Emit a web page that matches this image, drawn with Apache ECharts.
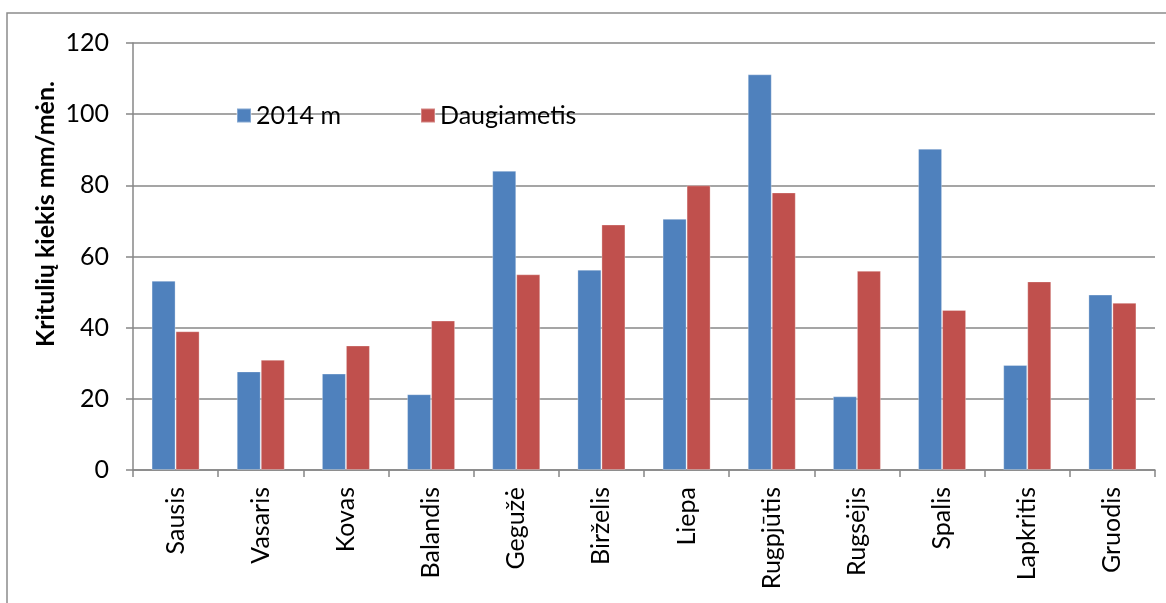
<!DOCTYPE html>
<html>
<head>
<meta charset="utf-8">
<script src="https://cdn.jsdelivr.net/npm/echarts@6/dist/echarts.min.js"></script>
<style>
  html, body { margin: 0; padding: 0; background: #fff; }
  #chart { width: 1166px; height: 603px; }
</style>
</head>
<body>
<div id="chart"></div>
<script>
// Monthly precipitation, mm per month
const months = ['Sausis', 'Vasaris', 'Kovas', 'Balandis', 'Gegužė', 'Birželis',
                'Liepa', 'Rugpjūtis', 'Rugsėjis', 'Spalis', 'Lapkritis', 'Gruodis'];
const year2014 = [53.2, 27.7, 27.1, 21.3, 84.1, 56.3, 70.6, 111.2, 20.7, 90.3, 29.5, 49.3];
const longTerm = [39, 31, 35, 42, 55, 69, 80, 78, 56, 45, 53, 47];
const seriesNames = ['2014 m', 'Daugiametis'];
const yTicks = { min: 0, max: 120, interval: 20 };
const yTitle = 'Kritulių kiekis mm/mėn.';

const FONT = 'Lato, "Open Sans", sans-serif';
const GRID_GRAY = '#878787';

const chart = echarts.init(document.getElementById('chart'), null, { renderer: 'canvas' });

chart.setOption({
  animation: false,
  backgroundColor: '#ffffff',
  textStyle: { fontFamily: FONT, color: '#000' },
  graphic: [
    {
      type: 'rect',
      shape: { x: 7, y: 13, width: 1200, height: 650 },
      style: { fill: 'none', stroke: '#8c8c8c', lineWidth: 1.5 },
      silent: true
    },
    {
      type: 'text',
      x: 46,
      y: 214,
      rotation: Math.PI / 2,
      style: {
        text: yTitle,
        fontFamily: FONT,
        fontWeight: 'bold',
        fontSize: 25,
        fill: '#000',
        align: 'center',
        verticalAlign: 'middle'
      },
      silent: true
    }
  ],
  legend: [
    {
      data: [seriesNames[0]],
      left: 231, top: 98,
      itemWidth: 14, itemHeight: 14,
      icon: 'rect',
      textStyle: { fontFamily: FONT, fontSize: 25, color: '#000', padding: [0, 0, 0, 0] }
    },
    {
      data: [seriesNames[1]],
      left: 415, top: 98,
      itemWidth: 14, itemHeight: 14,
      icon: 'rect',
      textStyle: { fontFamily: FONT, fontSize: 25, color: '#000', padding: [0, 0, 0, 0] }
    }
  ],
  grid: { left: 133, right: 11, top: 43, bottom: 133, containLabel: false },
  xAxis: {
    type: 'category',
    data: months,
    axisLine: { show: true, lineStyle: { color: GRID_GRAY, width: 1.5 } },
    axisTick: { show: true, length: 7, alignWithLabel: false, lineStyle: { color: GRID_GRAY, width: 1.5 } },
    axisLabel: {
      rotate: 90,
      interval: 0,
      margin: 17,
      fontFamily: FONT,
      fontSize: 25,
      color: '#000'
    },
    splitLine: { show: false }
  },
  yAxis: {
    type: 'value',
    min: yTicks.min,
    max: yTicks.max,
    interval: yTicks.interval,
    axisLine: { show: true, lineStyle: { color: GRID_GRAY, width: 1.5 } },
    axisTick: { show: true, length: 7, lineStyle: { color: GRID_GRAY, width: 1.5 } },
    axisLabel: { margin: 24, fontFamily: FONT, fontSize: 25, color: '#000' },
    splitLine: { show: true, lineStyle: { color: GRID_GRAY, width: 1.5 } }
  },
  series: [
    {
      name: seriesNames[0],
      type: 'bar',
      data: year2014,
      barGap: '0%',
      barCategoryGap: '43.6%',
      itemStyle: { color: '#4F81BD', borderColor: 'rgba(255,255,255,0.3)', borderWidth: 1 }
    },
    {
      name: seriesNames[1],
      type: 'bar',
      data: longTerm,
      barGap: '0%',
      barCategoryGap: '43.6%',
      itemStyle: { color: '#C0504D', borderColor: 'rgba(255,255,255,0.3)', borderWidth: 1 }
    }
  ]
});
</script>
</body>
</html>
